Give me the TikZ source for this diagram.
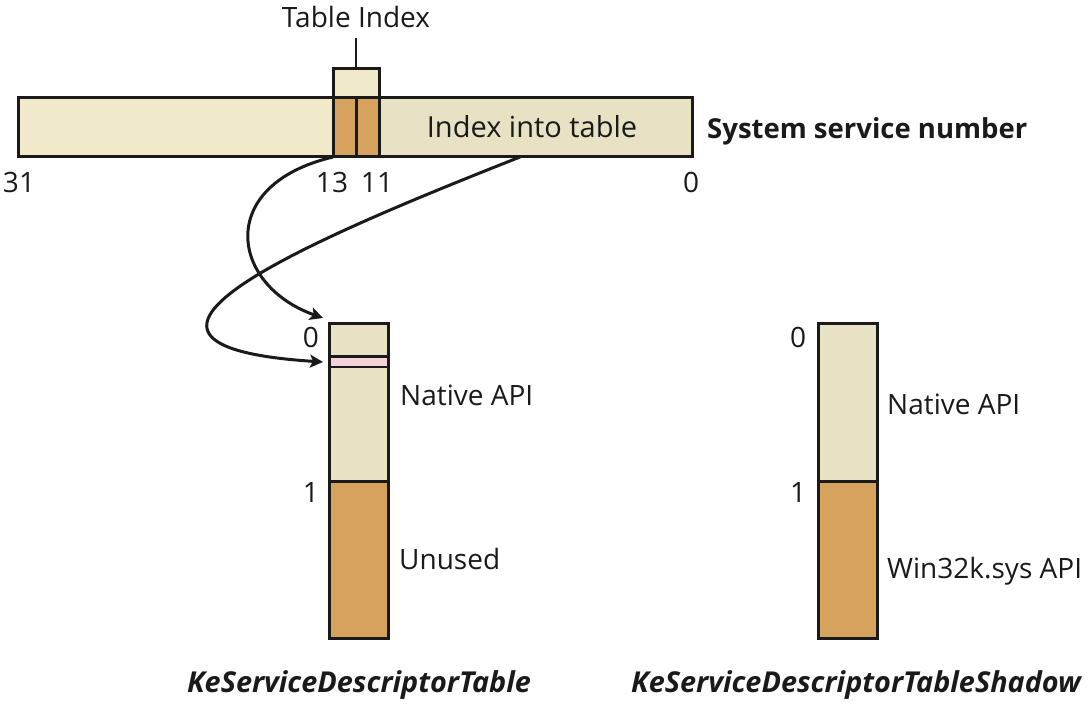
\documentclass[tikz,border=0pt]{standalone}
\usepackage{fontspec}
\setmainfont{Open Sans}
\usetikzlibrary{arrows.meta}
\definecolor{lightc}{HTML}{F0EACB}
\definecolor{midc}{HTML}{E8E2C4}
\definecolor{orc}{HTML}{D5A35E}
\definecolor{pinkc}{HTML}{F3D2DA}
\definecolor{ink}{HTML}{1A1A1A}
\begin{document}
\begin{tikzpicture}[x=1pt,y=-1pt]
\tikzset{
  box/.style={draw=ink, line width=3pt},
  lbl/.style={anchor=base, inner sep=0pt, font=\fontsize{28}{33}\selectfont, text=ink},
  lblw/.style={lbl, anchor=base west},
  ttl/.style={lbl, font=\fontsize{28.8}{34}\selectfont\bfseries\itshape},
  conn/.style={line width=3pt, draw=ink, -{Stealth[length=13pt,width=13pt,inset=3pt]}}
}
\useasboundingbox (0,0) rectangle (1092,708);
% service number bar
\fill[lightc] (18,98) rectangle (333,157);
\fill[midc] (379,98) rectangle (692,157);
\fill[orc] (333,98) rectangle (379,157);
\fill[lightc] (333,69) rectangle (379,98);
\draw[box] (18,98) rectangle (692,157);
\draw[box] (333,69) rectangle (379,157);
\draw[box] (356,98) -- (356,157);
\draw[draw=ink, line width=2.5pt] (356,38) -- (356,69);
\node[lbl] (ti) at (356,28) {Table Index};
\node[lbl, font=\fontsize{29}{34}\selectfont] (iit) at (532,138) {Index into table};
\node[lblw, font=\fontsize{27.5}{32}\selectfont\bfseries] (ssn) at (707,139) {System service number};
\node[lbl] (b31) at (19,193) {31};
\node[lbl] (b13) at (332,193) {13};
\node[lbl] (b11) at (377,193) {11};
\node[lbl] (b0) at (691,193) {0};
% left table
\fill[midc] (329,324) rectangle (388,481);
\fill[orc] (329,481) rectangle (388,638);
\fill[pinkc] (329,357) rectangle (388,367);
\draw[box] (329,324) rectangle (388,638);
\draw[box] (329,481) -- (388,481);
\draw[box] (329,357) -- (388,357);
\draw[draw=ink, line width=2pt] (329,367) -- (388,367);
\node[lbl] (l0) at (311,348) {0};
\node[lbl] (l1) at (311,502) {1};
\node[lblw] (lnat) at (400,406) {Native API};
\node[lblw] (lun) at (399,569) {Unused};
\node[ttl] (kst) at (359,692) {KeServiceDescriptorTable};
% right table
\fill[midc] (818,324) rectangle (877,481);
\fill[orc] (818,481) rectangle (877,638);
\draw[box] (818,324) rectangle (877,638);
\draw[box] (818,481) -- (877,481);
\node[lbl] (r0) at (798,348) {0};
\node[lbl] (r1) at (798,502) {1};
\node[lblw] (rnat) at (887,414) {Native API};
\node[lblw] (rwin) at (887,578) {Win32k.sys API};
\node[ttl] (ksts) at (856,692) {KeServiceDescriptorTableShadow};
% connectors
\coordinate (s13) at (333,157);
\coordinate (sidx) at (520,157);
\coordinate (e0) at (323,318);
\coordinate (e1) at (323,362);
\draw[conn] (s13) .. controls (215,185) and (230,285) .. (e0);
\draw[conn] (sidx) .. controls (310,240) and (60,345) .. (e1);
\end{tikzpicture}
\end{document}
